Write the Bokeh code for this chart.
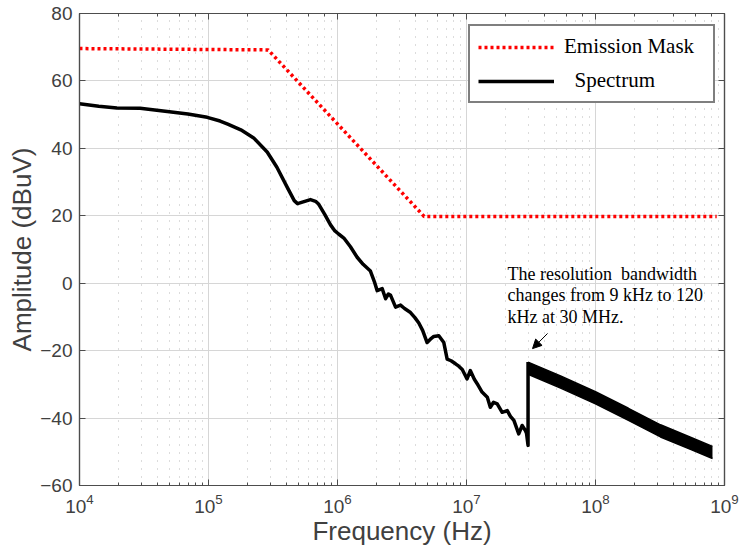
from bokeh.plotting import figure
from bokeh.models import (Range1d, LogAxis, LinearAxis, Legend, LegendItem, Label,
                          Arrow, NormalHead, SingleIntervalTicker, LogTicker,
                          CustomJSTickFormatter)
from bokeh.embed import file_html
from bokeh.resources import INLINE

# ---------------- data ----------------
mask_freq = [1.0e4, 2.9e5, 4.7e6, 8.7e8]
mask_db = [69.6, 69.2, 19.8, 19.8]

spec_freq = [1.00e4, 1.41e4, 1.95e4, 2.95e4, 4.79e4, 6.92e4, 9.77e4, 1.23e5, 1.41e5,
             1.78e5, 2.24e5, 2.85e5, 3.39e5, 4.07e5, 4.62e5, 4.90e5, 5.50e5, 6.17e5,
             6.76e5, 7.16e5, 7.94e5, 8.83e5, 9.55e5, 1.02e6, 1.12e6, 1.26e6, 1.42e6,
             1.58e6, 1.80e6, 1.93e6, 2.03e6, 2.22e6, 2.36e6, 2.48e6, 2.58e6, 2.82e6,
             3.08e6, 3.31e6, 3.68e6, 3.98e6, 4.27e6, 4.57e6, 4.95e6, 5.25e6, 5.58e6,
             6.10e6, 6.67e6, 7.08e6, 7.59e6, 8.22e6, 8.71e6, 9.27e6, 1.01e7, 1.07e7,
             1.15e7, 1.21e7, 1.32e7, 1.45e7, 1.53e7, 1.62e7, 1.73e7, 1.89e7, 2.07e7,
             2.19e7, 2.33e7, 2.54e7, 2.70e7, 2.86e7, 2.92e7, 3.00e7, 3.00e7]
spec_db = [53.2, 52.5, 52.0, 51.9, 50.9, 50.2, 49.2, 48.1, 47.2,
           45.5, 43.1, 38.9, 34.4, 28.5, 24.5, 23.6, 24.2, 24.8,
           24.3, 23.4, 20.5, 17.3, 15.5, 14.6, 13.4, 10.8, 7.7,
           5.6, 3.6, 0.5, -2.2, -1.6, -4.6, -3.2, -3.6, -7.1,
           -6.5, -7.5, -8.7, -10.2, -11.8, -14.0, -17.6, -16.6, -15.8,
           -15.6, -17.6, -22.5, -23.0, -23.9, -24.6, -25.6, -28.4, -25.9,
           -28.5, -29.8, -32.3, -33.8, -36.8, -35.3, -35.8, -38.3, -37.8,
           -39.5, -40.7, -44.7, -42.2, -43.7, -44.5, -48.1, -23.4]

# 120 kHz RBW part of the spectrum (dense trace, drawn as a band)
band_freq = [3.0e7, 5.36e7, 1.0e8, 1.80e8, 3.19e8, 5.45e8, 8.07e8]
band_upper = [-23.4, -27.5, -32.2, -37.1, -42.0, -45.7, -48.4]
band_lower = [-27.0, -31.1, -35.8, -40.7, -45.6, -49.3, -52.0]

y_ticks_interval = 20
legend_labels = ["Emission Mask", "\u00a0\u00a0Spectrum"]
note_text = "The resolution \u00a0bandwidth\nchanges from 9 kHz to 120\nkHz at 30 MHz."
note_freq, note_db = 2.08e7, 5.8
arrow_start = (4.25e7, -14.9)
arrow_end = (3.25e7, -19.4)

# ---------------- figure ----------------
GREY = "#404040"
AX = "#4d4d4d"
p = figure(width=739, height=550, x_axis_type="log",
           x_range=Range1d(1e4, 1e9), y_range=Range1d(-60, 80),
           output_backend="svg", toolbar_location=None,
           min_border_left=79, min_border_right=15, min_border_top=13,
           min_border_bottom=65)
p.outline_line_color = AX
p.outline_line_width = 1.2

# grids
p.xgrid.grid_line_color = "#d6d6d6"
p.ygrid.grid_line_color = "#d6d6d6"
p.xgrid.minor_grid_line_color = "#b8b8b8"
p.xgrid.minor_grid_line_dash = "1 7"
p.xgrid.minor_grid_line_width = 1
p.ygrid.ticker = SingleIntervalTicker(interval=y_ticks_interval)

blank = CustomJSTickFormatter(code="return ''")

def style_axis(ax, labels=True):
    ax.axis_line_color = AX
    ax.axis_line_width = 1.2
    ax.major_tick_line_color = AX
    ax.minor_tick_line_color = AX
    ax.major_tick_in = 6
    ax.major_tick_out = 0
    ax.minor_tick_in = 3
    ax.minor_tick_out = 0
    ax.major_label_text_color = GREY
    ax.major_label_text_font = "Liberation Sans"
    ax.major_label_text_font_size = "19px"
    ax.axis_label_text_color = GREY
    ax.axis_label_text_font = "Liberation Sans"
    ax.axis_label_text_font_style = "normal"
    ax.axis_label_text_font_size = "26px"
    if not labels:
        ax.formatter = blank
        ax.major_label_text_font_size = "1px"
        ax.major_label_standoff = 0
        ax.axis_label_standoff = 0

xa = p.xaxis[0]
style_axis(xa)
xa.axis_label = "Frequency (Hz)"
xa.major_label_standoff = 8
xa.axis_label_standoff = 0

ya = p.yaxis[0]
style_axis(ya)
ya.ticker = SingleIntervalTicker(interval=y_ticks_interval)
ya.minor_tick_line_color = None
ya.axis_label = "Amplitude (dBuV)"
ya.major_label_standoff = 7
ya.axis_label_standoff = 0

top = LogAxis(ticker=LogTicker())
style_axis(top, labels=False)
p.add_layout(top, "above")
right = LinearAxis(ticker=SingleIntervalTicker(interval=y_ticks_interval))
style_axis(right, labels=False)
right.minor_tick_line_color = None
p.add_layout(right, "right")

# ---------------- glyphs ----------------
mask_r = p.line(mask_freq, mask_db, line_color="#ff0000", line_width=3.5,
                line_dash="3 3")
p.varea(x=band_freq, y1=band_lower, y2=band_upper, fill_color="black")
p.line(band_freq, band_upper, line_color="black", line_width=1.5)
p.line(band_freq, band_lower, line_color="black", line_width=1.5)
spec_r = p.line(spec_freq, spec_db, line_color="black", line_width=3.5,
                line_join="round")

note = Label(x=note_freq, y=note_db, text=note_text, text_font="Liberation Serif",
             text_font_size="18px", text_baseline="top", text_align="left",
             text_color="black", text_line_height=1.08)
p.add_layout(note)
p.add_layout(Arrow(end=NormalHead(size=9, fill_color="black", line_color="black"),
                   x_start=arrow_start[0], y_start=arrow_start[1],
                   x_end=arrow_end[0], y_end=arrow_end[1],
                   line_color="black", line_width=1))

legend = Legend(items=[LegendItem(label=legend_labels[0], renderers=[mask_r]),
                       LegendItem(label=legend_labels[1], renderers=[spec_r])],
                location=(389, 382))
legend.label_text_font = "Liberation Serif"
legend.label_text_font_size = "21px"
legend.label_text_color = "black"
legend.glyph_width = 76
legend.glyph_height = 24
legend.label_height = 24
legend.label_width = 141
legend.label_standoff = 10
legend.padding = 8
legend.spacing = 9
legend.margin = 0
legend.border_line_color = "black"
legend.border_line_width = 2
legend.background_fill_alpha = 1
p.add_layout(legend)

open("out.html", "w").write(file_html(p, INLINE))
